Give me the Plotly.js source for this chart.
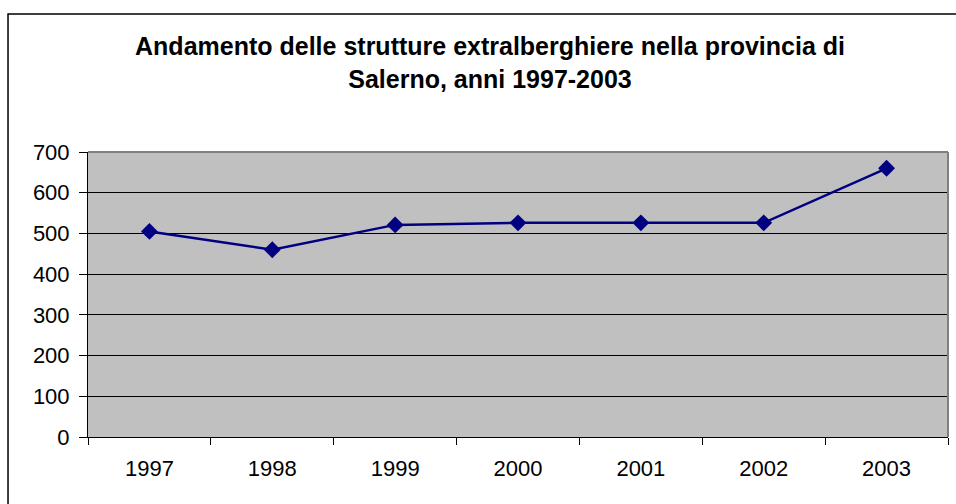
<!DOCTYPE html>
<html>
<head>
<meta charset="utf-8">
<script src="https://cdn.plot.ly/plotly-3.0.1.min.js"></script>
<style>
  html, body { margin: 0; padding: 0; background: #fff; }
  #chart { width: 956px; height: 504px; }
</style>
</head>
<body>
<div id="chart"></div>
<script>
// anni e numero di strutture extralberghiere
const years = ['1997', '1998', '1999', '2000', '2001', '2002', '2003'];
const structures = [505, 460, 521, 526, 526, 526, 660];
const yTicks = [0, 100, 200, 300, 400, 500, 600, 700];

const chartTitle = 'Andamento delle strutture extralberghiere nella provincia di<br>Salerno, anni 1997-2003';

const trace = {
  x: years,
  y: structures,
  type: 'scatter',
  mode: 'lines+markers',
  line: { color: '#000080', width: 2.5 },
  marker: { symbol: 'diamond', size: 13, color: '#000080' },
  hoverinfo: 'x+y'
};

const layout = {
  width: 956,
  height: 504,
  margin: { l: 88, r: 8, t: 152, b: 67 },
  paper_bgcolor: '#ffffff',
  plot_bgcolor: '#c0c0c0',
  font: { family: 'Liberation Sans, Arial, sans-serif', size: 22, color: '#000' },
  showlegend: false,
  title: {
    text: chartTitle,
    font: { family: 'Liberation Sans, Arial, sans-serif', size: 25, color: '#000', weight: 'bold' },
    x: 490 / 956,
    xanchor: 'center',
    xref: 'container',
    y: 1 - 55 / 504,
    yanchor: 'middle',
    yref: 'container'
  },
  xaxis: {
    type: 'category',
    range: [-0.5, 6.5],
    tickson: 'boundaries',
    ticks: 'outside',
    ticklen: 7,
    tickcolor: '#000',
    ticklabelstandoff: 12,
    showline: true,
    linecolor: '#000',
    linewidth: 1,
    showgrid: false,
    zeroline: false,
    fixedrange: true
  },
  yaxis: {
    range: [0, 700],
    tickvals: yTicks,
    ticks: 'outside',
    ticklen: 8,
    tickcolor: '#000',
    ticklabelstandoff: 5,
    showline: true,
    linecolor: '#000',
    linewidth: 1,
    showgrid: true,
    gridcolor: '#000',
    gridwidth: 1,
    zeroline: false,
    fixedrange: true
  },
  shapes: [
    // bordo grigio dell'area del grafico (alto e destra)
    { type: 'line', xref: 'paper', yref: 'paper', x0: 0, x1: 1, y0: 1, y1: 1, line: { color: '#808080', width: 2 } },
    { type: 'line', xref: 'paper', yref: 'paper', x0: 1, x1: 1, y0: 0, y1: 1, line: { color: '#808080', width: 2 } },
    // cornice esterna del grafico
    { type: 'rect', xref: 'paper', yref: 'paper', x0: -0.093, x1: 1.02, y0: -0.27, y1: 1.484, line: { color: '#000', width: 1.5 }, layer: 'below' }
  ]
};

Plotly.newPlot('chart', [trace], layout, { displayModeBar: false, staticPlot: true });
</script>
</body>
</html>
